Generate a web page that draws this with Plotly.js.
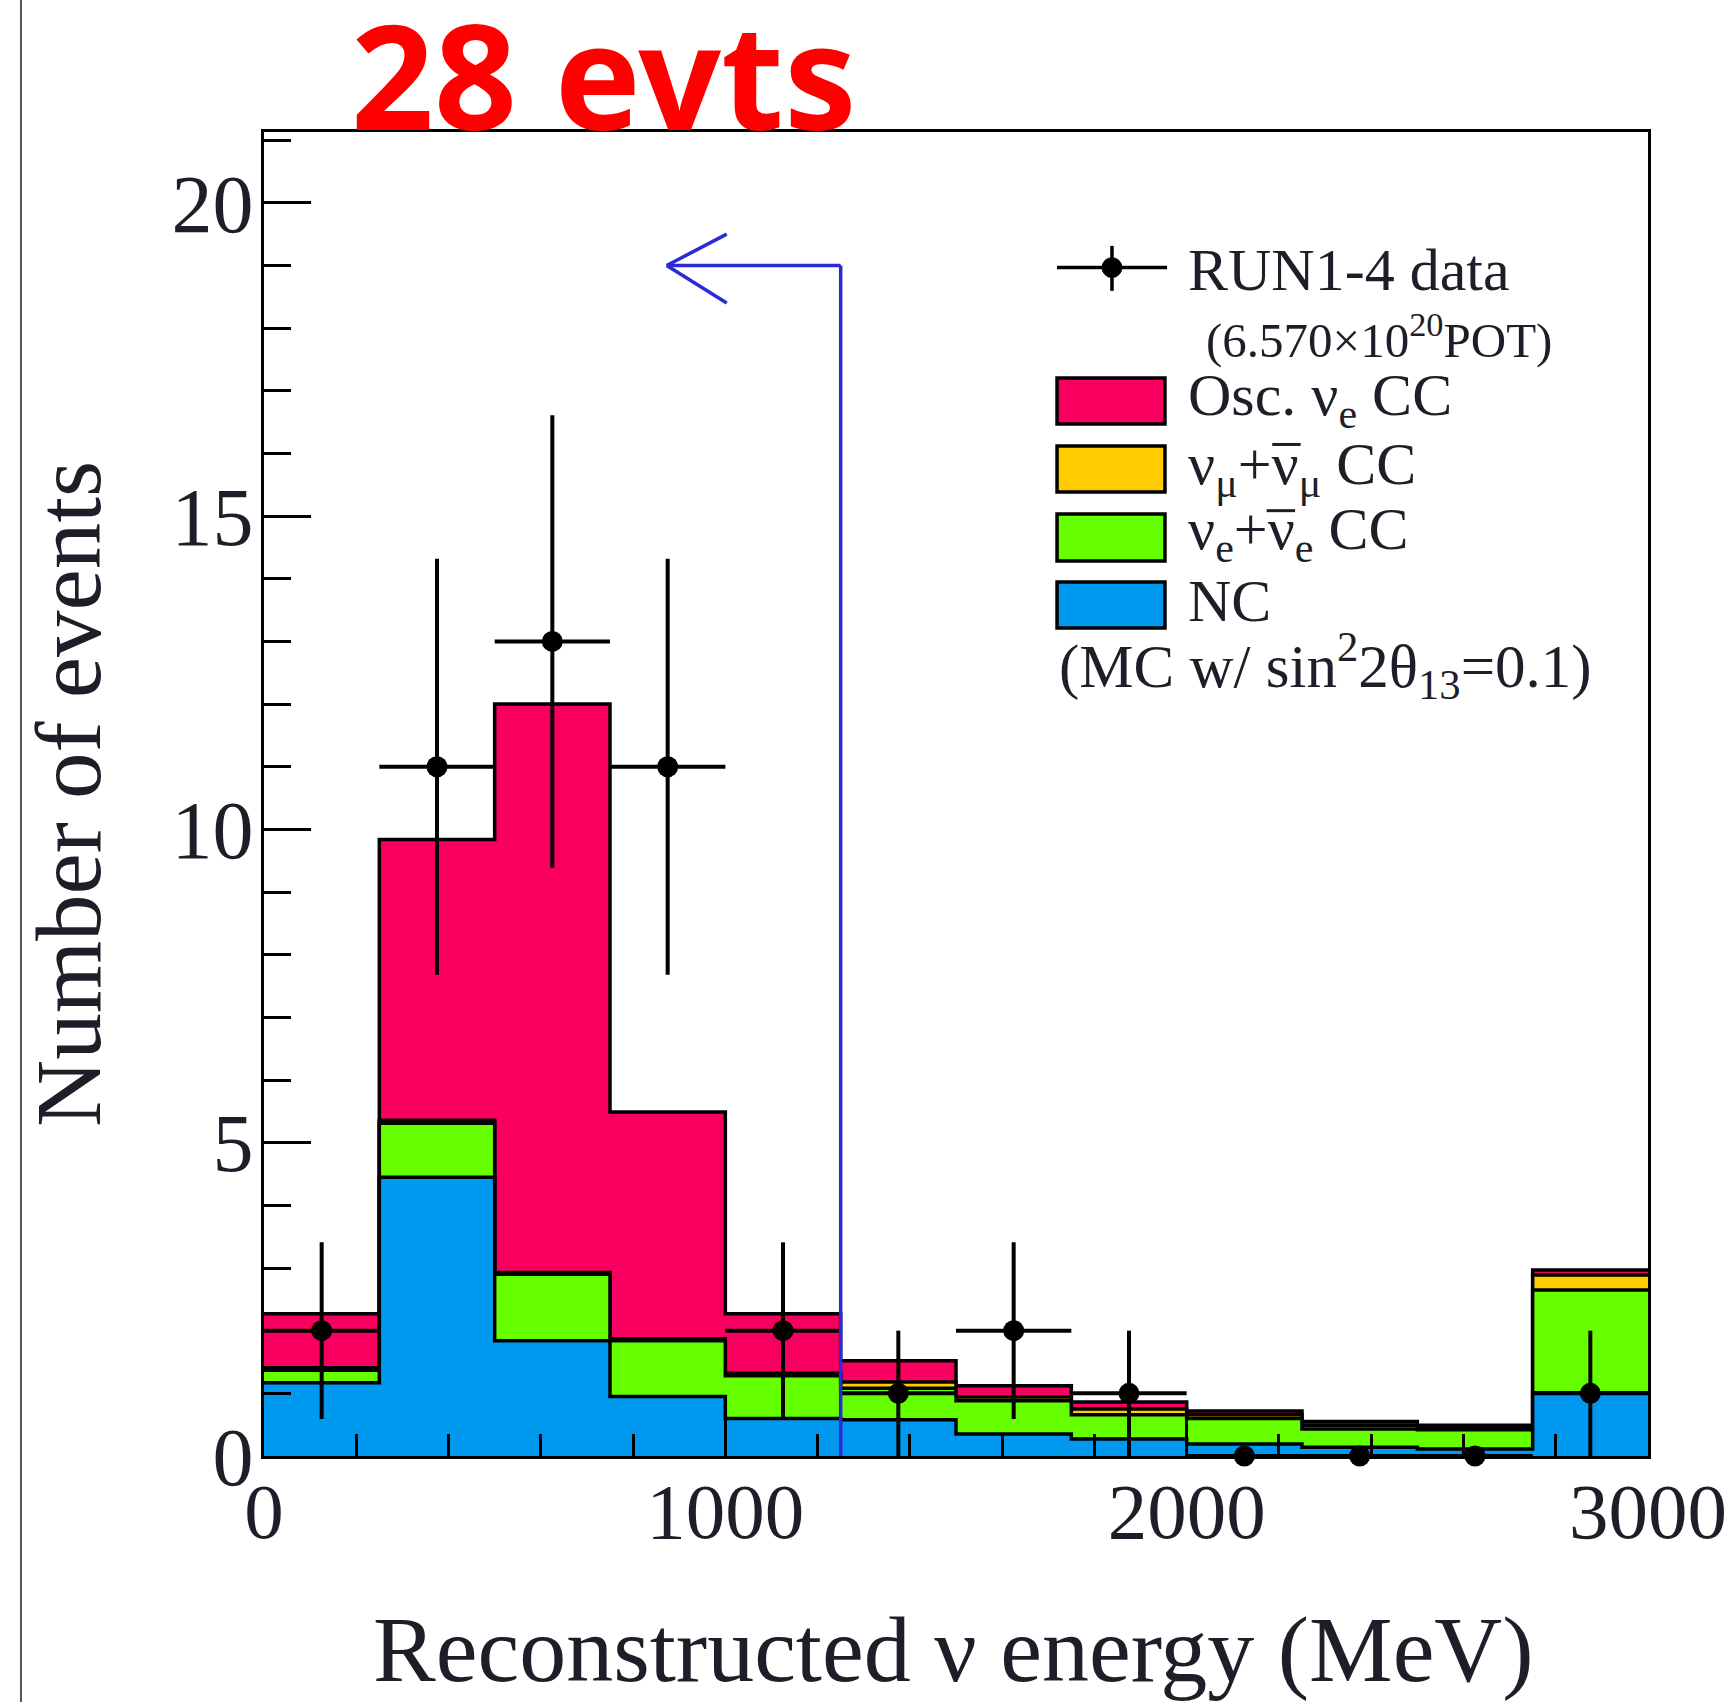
<!DOCTYPE html>
<html>
<head>
<meta charset="utf-8">
<script src="https://cdn.plot.ly/plotly-3.0.1.min.js"></script>
<style>html,body{margin:0;padding:0;background:#fff;}#chart{width:1727px;height:1702px;}</style>
</head>
<body>
<div id="chart"></div>
<script>
// ---- Data ----
const binEdges = [0, 250, 500, 750, 1000, 1250, 1500, 1750, 2000, 2250, 2500, 2750, 3000];
const ncEvents      = [1.17, 4.45, 1.84, 0.95, 0.60, 0.58, 0.35, 0.27, 0.19, 0.14, 0.11, 1.01];
const nueBkgEvents  = [0.20, 0.86, 1.06, 0.89, 0.68, 0.50, 0.53, 0.39, 0.41, 0.29, 0.31, 1.64];
const numuEvents    = [0.04, 0.05, 0.03, 0.03, 0.04, 0.10, 0.06, 0.09, 0.06, 0.06, 0.03, 0.24];
const oscNueEvents  = [0.86, 4.48, 9.07, 3.62, 0.95, 0.34, 0.18, 0.11, 0.06, 0.06, 0.04, 0.08];
const dataCounts    = [2, 11, 13, 11, 2, 1, 2, 1, 0, 0, 0, 1];
const dataErrors    = [1.41, 3.32, 3.61, 3.32, 1.41, 1.0, 1.41, 1.0, 0, 0, 0, 1.0];
const cutEnergy = 1250;   // MeV, selection cut shown by the arrow
const arrowLevel = 19;
const arrowTipEnergy = 873;
const xTickVals = [0, 1000, 2000, 3000];
const yTickVals = [0, 5, 10, 15, 20];

// ---- Styles ----
const colRed = '#f90060', colYellow = '#ffcc00', colGreen = '#66ff00', colBlue = '#0099f0';
const serif = 'Liberation Serif, Times New Roman, serif';
const txtCol = '#1e1e28';

// cumulative stacks
function cum(arrs) { return arrs[0].map((_, i) => arrs.reduce((s, a) => s + a[i], 0)); }
const cumBlue = cum([ncEvents]);
const cumGreen = cum([ncEvents, nueBkgEvents]);
const cumYellow = cum([ncEvents, nueBkgEvents, numuEvents]);
const cumRed = cum([ncEvents, nueBkgEvents, numuEvents, oscNueEvents]);

function stepTrace(vals, color) {
  return {
    type: 'scatter', mode: 'lines', x: binEdges.slice(),
    y: vals.concat([vals[vals.length - 1]]),
    line: { shape: 'hv', color: 'black', width: 3.5 },
    fill: 'tozeroy', fillcolor: color, hoverinfo: 'skip', showlegend: false
  };
}
const centers = binEdges.slice(0, -1).map((e, i) => (e + binEdges[i + 1]) / 2);
const halfWidth = (binEdges[1] - binEdges[0]) / 2;

const traces = [
  stepTrace(cumRed, colRed),
  stepTrace(cumYellow, colYellow),
  stepTrace(cumGreen, colGreen),
  stepTrace(cumBlue, colBlue),
  {
    type: 'scatter', mode: 'markers', x: centers, y: dataCounts,
    marker: { color: 'black', size: 21 },
    error_y: { type: 'data', array: dataErrors, visible: true, color: 'black', thickness: 4, width: 0 },
    error_x: { type: 'constant', value: halfWidth, visible: true, color: 'black', thickness: 4, width: 0 },
    cliponaxis: false, showlegend: false, hoverinfo: 'skip'
  }
];

// ---- Legend geometry (paper coords) ----
const lgX0 = 0.573, lgX1 = 0.651, lgTextX = 0.666;
const boxes = [
  { y0: 0.7795, y1: 0.8142, c: colRed },
  { y0: 0.7281, y1: 0.7628, c: colYellow },
  { y0: 0.6760, y1: 0.7115, c: colGreen },
  { y0: 0.6254, y1: 0.6601, c: colBlue }
];
const shapes = [];
boxes.forEach(b => shapes.push({ type: 'rect', xref: 'paper', yref: 'paper', x0: lgX0, x1: lgX1, y0: b.y0, y1: b.y1, fillcolor: b.c, line: { color: 'black', width: 3.5 } }));
shapes.push({ type: 'line', xref: 'paper', yref: 'paper', x0: 0.573, x1: 0.6525, y0: 0.8976, y1: 0.8976, line: { color: 'black', width: 3.5 } });
shapes.push({ type: 'line', xref: 'paper', yref: 'paper', x0: 0.6127, x1: 0.6127, y0: 0.8800, y1: 0.9140, line: { color: 'black', width: 3.5 } });
shapes.push({ type: 'circle', xref: 'paper', yref: 'paper', x0: 0.6127 - 0.0072, x1: 0.6127 + 0.0072, y0: 0.8976 - 0.0075, y1: 0.8976 + 0.0075, fillcolor: 'black', line: { color: 'black', width: 1 } });
// anti-neutrino overbars in legend
shapes.push({ type: 'line', xref: 'paper', yref: 'paper', x0: 0.7285, x1: 0.7490, y0: 0.7640, y1: 0.7640, line: { color: txtCol, width: 3 } });
shapes.push({ type: 'line', xref: 'paper', yref: 'paper', x0: 0.7245, x1: 0.7450, y0: 0.7140, y1: 0.7140, line: { color: txtCol, width: 3 } });
// cut arrow (data coords)
const arrowCol = '#2a2ad6';
shapes.push({ type: 'line', xref: 'x', yref: 'y', x0: cutEnergy, x1: cutEnergy, y0: 0, y1: arrowLevel, line: { color: arrowCol, width: 3.5 } });
shapes.push({ type: 'line', xref: 'x', yref: 'y', x0: cutEnergy, x1: arrowTipEnergy, y0: arrowLevel, y1: arrowLevel, line: { color: arrowCol, width: 3.5 } });
shapes.push({ type: 'line', xref: 'x', yref: 'y', x0: arrowTipEnergy, x1: arrowTipEnergy + 130, y0: arrowLevel, y1: arrowLevel + 0.5, line: { color: arrowCol, width: 3.5 } });
shapes.push({ type: 'line', xref: 'x', yref: 'y', x0: arrowTipEnergy, x1: arrowTipEnergy + 130, y0: arrowLevel, y1: arrowLevel - 0.6, line: { color: arrowCol, width: 3.5 } });
// page border line at far left
shapes.push({ type: 'line', xref: 'paper', yref: 'paper', x0: -0.1756, x1: -0.1756, y0: -0.19, y1: 1.11, line: { color: '#555', width: 2 } });

const annotations = [
  { text: '28 evts', xref: 'paper', yref: 'paper', x: 0.246, y: 1.044, xanchor: 'center', yanchor: 'middle', showarrow: false,
    font: { family: 'Noto Sans, DejaVu Sans, sans-serif', size: 145, color: '#ff0000', weight: 'bold' } },
  { text: 'Number of events', xref: 'paper', yref: 'paper', x: -0.1416, y: 0.5, textangle: -90, xanchor: 'center', yanchor: 'middle', showarrow: false,
    font: { family: serif, size: 93, color: txtCol } },
  { text: 'Reconstructed ν energy (MeV)', xref: 'paper', yref: 'paper', x: 0.498, y: -0.146, xanchor: 'center', yanchor: 'middle', showarrow: false,
    font: { family: serif, size: 94, color: txtCol } },
  { text: 'RUN1-4 data', xref: 'paper', yref: 'paper', x: lgTextX, y: 0.8958, xanchor: 'left', yanchor: 'middle', showarrow: false,
    font: { family: serif, size: 60, color: txtCol } },
  { text: '(6.570×10<sup>20</sup>POT)', xref: 'paper', yref: 'paper', x: 0.679, y: 0.8459, xanchor: 'left', yanchor: 'middle', showarrow: false,
    font: { family: serif, size: 49, color: txtCol } },
  { text: 'Osc. ν<sub>e</sub> CC', xref: 'paper', yref: 'paper', x: lgTextX, y: 0.7983, xanchor: 'left', yanchor: 'middle', showarrow: false,
    font: { family: serif, size: 60, color: txtCol } },
  { text: 'ν<sub>μ</sub>+ν<sub>μ</sub> CC', xref: 'paper', yref: 'paper', x: lgTextX, y: 0.7462, xanchor: 'left', yanchor: 'middle', showarrow: false,
    font: { family: serif, size: 60, color: txtCol } },
  { text: 'ν<sub>e</sub>+ν<sub>e</sub> CC', xref: 'paper', yref: 'paper', x: lgTextX, y: 0.6964, xanchor: 'left', yanchor: 'middle', showarrow: false,
    font: { family: serif, size: 60, color: txtCol } },
  { text: 'NC', xref: 'paper', yref: 'paper', x: lgTextX, y: 0.6458, xanchor: 'left', yanchor: 'middle', showarrow: false,
    font: { family: serif, size: 60, color: txtCol } },
  { text: '(MC w/ sin<sup>2</sup>2θ<sub>13</sub>=0.1)', xref: 'paper', yref: 'paper', x: 0.573, y: 0.5967, xanchor: 'left', yanchor: 'middle', showarrow: false,
    font: { family: serif, size: 61, color: txtCol } }
];

const layout = {
  width: 1727, height: 1702,
  margin: { l: 264, r: 79, t: 132, b: 246 },
  paper_bgcolor: 'white', plot_bgcolor: 'white',
  showlegend: false,
  xaxis: {
    range: [0, 3000], tickvals: xTickVals, ticktext: xTickVals.map(String),
    ticks: 'inside', ticklen: 40, tickwidth: 3, tickcolor: 'black',
    minor: { dtick: 200, tick0: 0, ticks: 'inside', ticklen: 22, tickwidth: 3, tickcolor: 'black', showgrid: false },
    showline: true, linewidth: 3, linecolor: 'black', mirror: true,
    showgrid: false, zeroline: false, ticklabelstandoff: -16, ticklabeloverflow: 'allow',
    tickfont: { family: serif, size: 79, color: txtCol }
  },
  yaxis: {
    range: [0, 21.13], tickvals: yTickVals, ticktext: yTickVals.map(String),
    ticks: 'inside', ticklen: 47, tickwidth: 3, tickcolor: 'black',
    minor: { dtick: 1, tick0: 0, ticks: 'inside', ticklen: 27, tickwidth: 3, tickcolor: 'black', showgrid: false },
    showline: true, linewidth: 3, linecolor: 'black', mirror: true,
    showgrid: false, zeroline: false, ticklabelstandoff: -9, ticklabeloverflow: 'allow',
    tickfont: { family: serif, size: 82, color: txtCol }
  },
  shapes: shapes,
  annotations: annotations
};

Plotly.newPlot('chart', traces, layout, { staticPlot: true, displayModeBar: false });
</script>
</body>
</html>
